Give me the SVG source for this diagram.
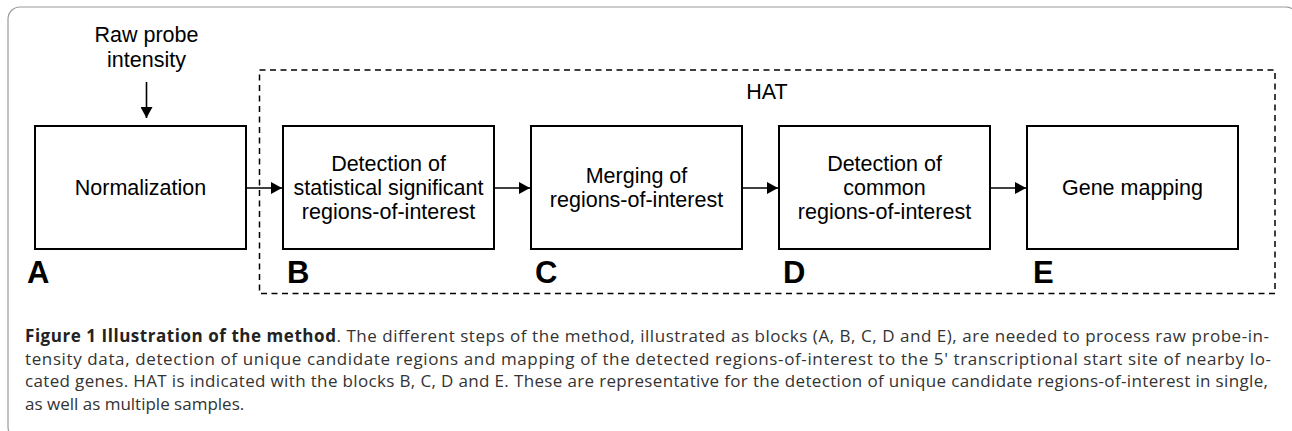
<svg xmlns="http://www.w3.org/2000/svg" width="1292" height="431" viewBox="0 0 1292 431">
<style>
.box{fill:#fff;stroke:#000;stroke-width:2}
.t{font-family:"Liberation Sans",Arial,sans-serif;font-size:21.5px;fill:#000;text-anchor:middle}
.lbl{font-family:"Liberation Sans",Arial,sans-serif;font-size:31px;font-weight:bold;fill:#000}
.conn{stroke:#000;stroke-width:1.6;fill:none}
.cap{font-family:"Open Sans","Noto Sans","Liberation Sans",sans-serif;font-size:17px;fill:#333}
</style>
<defs>
<marker id="ah" markerWidth="12" markerHeight="12" refX="11" refY="6" orient="auto" markerUnits="userSpaceOnUse">
<path d="M0,0 L11,6 L0,12 Z" fill="#000"/>
</marker>
</defs>
<rect x="8" y="7" width="1290" height="432" rx="12" fill="none" stroke="#9a9a9a" stroke-width="1.2"/>
<g id="hat">
<rect x="259.5" y="70" width="1015.5" height="223.5" fill="none" stroke="#000" stroke-width="1.5" stroke-dasharray="6,4.5"/>
<text class="t" x="767" y="99">HAT</text>
</g>
<g id="input">
<text class="t" x="146.5" y="42">Raw probe</text>
<text class="t" x="146.5" y="67">intensity</text>
</g>
<g id="A">
<rect class="box" x="35" y="126" width="211" height="123"/>
<text class="t" x="140.5" y="195">Normalization</text>
<text class="lbl" x="27" y="283">A</text>
</g>
<g id="B">
<rect class="box" x="283" y="126" width="211" height="123"/>
<text class="t" x="388.5" y="171">Detection of</text>
<text class="t" x="388.5" y="195">statistical significant</text>
<text class="t" x="388.5" y="219">regions-of-interest</text>
<text class="lbl" x="287" y="283">B</text>
</g>
<g id="C">
<rect class="box" x="531" y="126" width="211" height="123"/>
<text class="t" x="636.5" y="183">Merging of</text>
<text class="t" x="636.5" y="207">regions-of-interest</text>
<text class="lbl" x="535" y="283">C</text>
</g>
<g id="D">
<rect class="box" x="779" y="126" width="211" height="123"/>
<text class="t" x="884.5" y="171">Detection of</text>
<text class="t" x="884.5" y="195">common</text>
<text class="t" x="884.5" y="219">regions-of-interest</text>
<text class="lbl" x="783" y="283">D</text>
</g>
<g id="E">
<rect class="box" x="1027" y="126" width="211" height="123"/>
<text class="t" x="1132.5" y="195">Gene mapping</text>
<text class="lbl" x="1033" y="283">E</text>
</g>
<g id="connectors">
<line class="conn" x1="146.5" y1="82" x2="146.5" y2="118" marker-end="url(#ah)"/>
<line class="conn" x1="246" y1="188" x2="282" y2="188" marker-end="url(#ah)"/>
<line class="conn" x1="494" y1="188" x2="530" y2="188" marker-end="url(#ah)"/>
<line class="conn" x1="742" y1="188" x2="778" y2="188" marker-end="url(#ah)"/>
<line class="conn" x1="990" y1="188" x2="1026" y2="188" marker-end="url(#ah)"/>
</g>
<g id="caption">
<text class="cap" x="25" y="342" textLength="1244" lengthAdjust="spacing"><tspan font-weight="bold" fill="#222">Figure 1 Illustration of the method</tspan>. The different steps of the method, illustrated as blocks (A, B, C, D and E), are needed to process raw probe-in-</text>
<text class="cap" x="25" y="364.5" textLength="1246" lengthAdjust="spacing">tensity data, detection of unique candidate regions and mapping of the detected regions-of-interest to the 5' transcriptional start site of nearby lo-</text>
<text class="cap" x="25" y="387" textLength="1243" lengthAdjust="spacing">cated genes. HAT is indicated with the blocks B, C, D and E. These are representative for the detection of unique candidate regions-of-interest in single,</text>
<text class="cap" x="25" y="409.5">as well as multiple samples.</text>
</g>
</svg>
